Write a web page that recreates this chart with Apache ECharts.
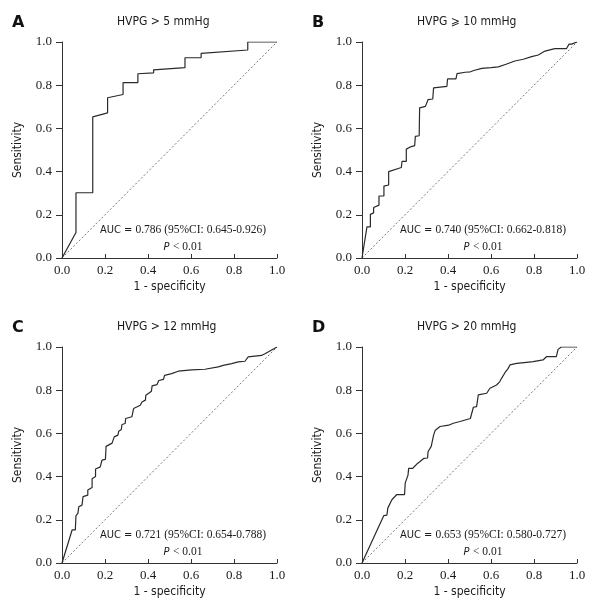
<!DOCTYPE html>
<html>
<head>
<meta charset="utf-8">
<script src="https://cdn.jsdelivr.net/npm/echarts@6/dist/echarts.min.js"></script>
<style>html,body{margin:0;padding:0;background:#fff;}#c{width:600px;height:610px;}</style>
</head>
<body>
<div id="c"></div>
<script>
// ---- data ----
const panelLetters = ['A', 'B', 'C', 'D'];
const panelTitles = ['HVPG > 5 mmHg', 'HVPG \u2A7E 10 mmHg', 'HVPG > 12 mmHg', 'HVPG > 20 mmHg'];
const aucValues = ['0.786 (95%CI: 0.645-0.926)', '0.740 (95%CI: 0.662-0.818)', '0.721 (95%CI: 0.654-0.788)', '0.653 (95%CI: 0.580-0.727)'];
const pText = '< 0.01';
const tickLabels = ['0.0', '0.2', '0.4', '0.6', '0.8', '1.0'];
const xAxisTitle = '1 - specificity';
const yAxisTitle = 'Sensitivity';
const reference = [[0, 0], [1, 1]];

const rocA = [[0,0],[0.065,0.118],[0.065,0.302],[0.143,0.302],[0.143,0.653],[0.212,0.672],[0.212,0.742],
  [0.284,0.757],[0.284,0.812],[0.353,0.812],[0.353,0.853],[0.426,0.857],[0.426,0.871],[0.572,0.881],
  [0.572,0.927],[0.647,0.927],[0.647,0.947],[0.864,0.963],[0.864,1.0],[1,1]];

const rocB = [[0,0],[0.023,0.144],[0.039,0.144],[0.039,0.202],[0.054,0.209],[0.054,0.234],[0.079,0.245],
  [0.079,0.287],[0.102,0.287],[0.102,0.333],[0.124,0.338],[0.124,0.40],[0.183,0.419],[0.186,0.447],
  [0.206,0.447],[0.206,0.504],[0.229,0.516],[0.245,0.52],[0.248,0.563],[0.266,0.566],[0.268,0.695],
  [0.295,0.702],[0.307,0.733],[0.329,0.736],[0.333,0.788],[0.395,0.795],[0.398,0.829],[0.437,0.829],
  [0.442,0.854],[0.48,0.86],[0.504,0.862],[0.52,0.868],[0.557,0.878],[0.6,0.881],[0.634,0.885],
  [0.67,0.897],[0.711,0.912],[0.75,0.92],[0.789,0.932],[0.82,0.94],[0.851,0.958],[0.897,0.969],
  [0.951,0.969],[0.963,0.99],[0.975,0.99],[0.975,0.985],[1,1]];

const rocC = [[0,0],[0.047,0.153],[0.062,0.153],[0.065,0.219],[0.074,0.23],[0.078,0.26],[0.093,0.268],
  [0.098,0.307],[0.12,0.314],[0.12,0.338],[0.14,0.35],[0.14,0.39],[0.156,0.40],[0.156,0.435],
  [0.178,0.445],[0.186,0.476],[0.202,0.48],[0.205,0.54],[0.233,0.555],[0.243,0.584],[0.26,0.592],
  [0.264,0.61],[0.276,0.618],[0.279,0.641],[0.294,0.646],[0.296,0.669],[0.325,0.677],[0.333,0.715],
  [0.364,0.73],[0.372,0.745],[0.388,0.754],[0.39,0.777],[0.416,0.795],[0.419,0.82],[0.442,0.826],
  [0.45,0.845],[0.472,0.85],[0.477,0.869],[0.51,0.877],[0.541,0.888],[0.603,0.894],[0.665,0.897],
  [0.727,0.908],[0.75,0.915],[0.789,0.923],[0.82,0.931],[0.851,0.934],[0.866,0.954],[0.928,0.961],
  [0.944,0.969],[1,1]];

const rocD = [[0,0],[0.101,0.219],[0.116,0.222],[0.12,0.254],[0.139,0.293],[0.162,0.317],[0.198,0.317],
  [0.201,0.37],[0.214,0.407],[0.217,0.438],[0.236,0.438],[0.245,0.448],[0.255,0.458],[0.27,0.47],
  [0.287,0.484],[0.305,0.486],[0.307,0.515],[0.322,0.54],[0.333,0.592],[0.341,0.615],[0.363,0.632],
  [0.403,0.638],[0.425,0.647],[0.456,0.655],[0.504,0.669],[0.51,0.678],[0.518,0.721],[0.533,0.724],
  [0.541,0.778],[0.58,0.786],[0.595,0.809],[0.626,0.824],[0.641,0.84],[0.649,0.855],[0.665,0.881],
  [0.68,0.901],[0.688,0.917],[0.719,0.924],[0.765,0.929],[0.796,0.932],[0.842,0.94],[0.858,0.955],
  [0.904,0.955],[0.912,0.989],[0.927,1.0],[1,1]];

const rocCurves = [rocA, rocB, rocC, rocD];

// ---- layout ----
const gridPos = [
  {left: 62, top: 42}, {left: 362, top: 42},
  {left: 62, top: 347}, {left: 362, top: 347}
];
const GW = 215, GH = 216;
const SANS = '"DejaVu Sans Condensed", "DejaVu Sans", sans-serif';
const SERIF = '"Liberation Serif", "Times New Roman", serif';
const TXT = '#1a1a1a';

const grids = [], xAxes = [], yAxes = [], series = [], graphics = [];
rocCurves.forEach((roc, i) => {
  const g = gridPos[i];
  grids.push({left: g.left, top: g.top, width: GW, height: GH, containLabel: false});
  xAxes.push({
    type: 'value', gridIndex: i, min: 0, max: 1, interval: 0.2,
    name: xAxisTitle, nameLocation: 'middle', nameGap: 23,
    nameTextStyle: {fontFamily: SANS, fontSize: 12, color: TXT},
    axisLine: {show: true, lineStyle: {color: '#333', width: 1}},
    axisTick: {show: true, inside: true, length: 4, lineStyle: {color: '#333'}},
    axisLabel: {margin: 6, fontFamily: SERIF, fontSize: 13, color: TXT,
      formatter: v => tickLabels[Math.round(v * 5)]},
    splitLine: {show: false}
  });
  yAxes.push({
    type: 'value', gridIndex: i, min: 0, max: 1, interval: 0.2,
    name: yAxisTitle, nameLocation: 'middle', nameGap: 38,
    nameTextStyle: {fontFamily: SANS, fontSize: 12, color: TXT},
    axisLine: {show: true, lineStyle: {color: '#333', width: 1}},
    axisTick: {show: true, inside: false, length: 6, lineStyle: {color: '#333'}},
    axisLabel: {margin: 10, fontFamily: SERIF, fontSize: 13, color: TXT,
      formatter: v => tickLabels[Math.round(v * 5)]},
    splitLine: {show: false}
  });
  series.push({
    type: 'line', xAxisIndex: i, yAxisIndex: i, data: reference, showSymbol: false, silent: true,
    lineStyle: {color: '#555', width: 0.8, type: [2, 2]}
  });
  series.push({
    type: 'line', xAxisIndex: i, yAxisIndex: i, data: roc, showSymbol: false, silent: true,
    lineStyle: {color: '#2a2a2a', width: 1.2}
  });
  const ox = g.left - 62, oy = g.top - 42;
  graphics.push({type: 'text', style: {
    text: panelLetters[i], x: ox + 12, y: oy + 23, align: 'left', verticalAlign: 'middle',
    font: 'bold 16px "DejaVu Sans", sans-serif', fill: '#111'}});
  graphics.push({type: 'text', style: {
    text: panelTitles[i], x: ox + 117, y: oy + 22, align: 'left', verticalAlign: 'middle',
    font: '12px ' + SANS, fill: TXT}});
  graphics.push({type: 'text', style: {
    text: '{a|AUC = }{b|' + aucValues[i] + '}', x: ox + 183, y: oy + 230, align: 'center', verticalAlign: 'middle',
    rich: {a: {fontFamily: SANS, fontSize: 11, fill: TXT}, b: {fontFamily: SERIF, fontSize: 11.5, fill: TXT}}}});
  graphics.push({type: 'text', style: {
    text: '{a|P} {b|' + pText + '}', x: ox + 183, y: oy + 247, align: 'center', verticalAlign: 'middle',
    rich: {a: {fontFamily: SANS, fontSize: 11, fontStyle: 'italic', fill: TXT}, b: {fontFamily: SERIF, fontSize: 11.5, fill: TXT}}}});
});

const chart = echarts.init(document.getElementById('c'), null, {renderer: 'canvas'});
chart.setOption({
  animation: false,
  backgroundColor: '#fff',
  grid: grids, xAxis: xAxes, yAxis: yAxes, series: series,
  graphic: graphics
});
</script>
</body>
</html>
